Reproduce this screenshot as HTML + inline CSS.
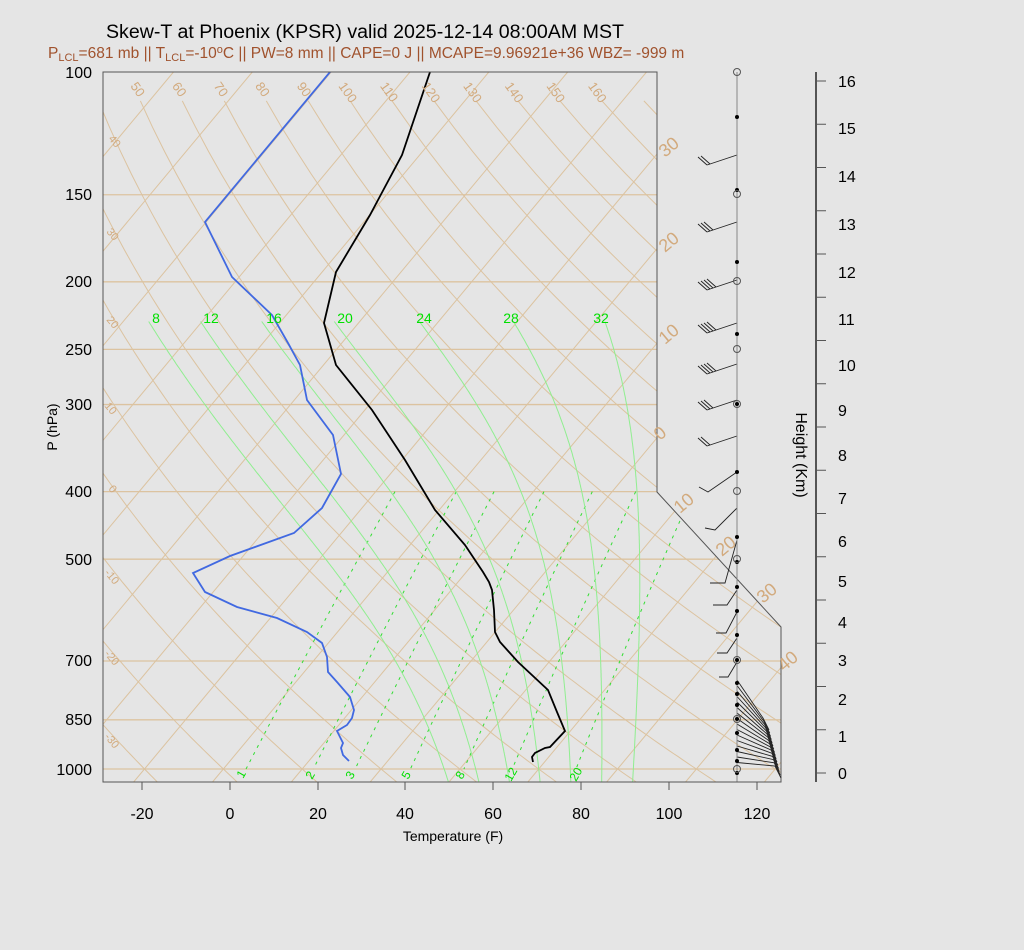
<!DOCTYPE html>
<html><head><meta charset="utf-8"><style>
body{margin:0;background:#e5e5e5;}
svg{display:block;font-family:"Liberation Sans",sans-serif;}
</style></head><body>
<svg id="s" width="1024" height="950" viewBox="0 0 1024 950" xmlns="http://www.w3.org/2000/svg">
<rect width="1024" height="950" fill="#e5e5e5"/>
<defs><clipPath id="cp"><polygon points="103,72 657,72 657,492 781,627 781,782 103,782"/></clipPath></defs>
<g id="grid" clip-path="url(#cp)"></g>
<g id="snd" clip-path="url(#cp)">
<polyline fill="none" stroke="#000" stroke-width="1.8" points="430,72 402,155 370,215 336,272 324,323 336,365 372,410 405,460 435,510 465,545 483,572 489,582 492,590 494,610 495,632 500,642 518,662 548,690 557,712 565,731 550,747 545,748 535,753 532,757 533,762"/>
<polyline fill="none" stroke="#4169e1" stroke-width="1.8" points="330,72 205,222 232,277 272,315 288,343 300,365 307,400 333,435 341,474 322,508 294,533 230,556 193,573 205,592 237,607 277,618 307,632 322,643 327,657 328,672 337,682 350,697 354,710 352,718 347,725 337,731 340,737 343,743 341,748 343,755 349,761"/>
</g>
<polygon points="103,72 657,72 657,492 781,627 781,782 103,782" fill="none" stroke="#555" stroke-width="1"/>
<g font-size="14" fill="#d2aa7d">
<text x="665" y="158" font-size="18" transform="rotate(-40 665 158)">30</text>
<text x="665" y="253" font-size="18" transform="rotate(-40 665 253)">20</text>
<text x="665" y="345" font-size="18" transform="rotate(-40 665 345)">10</text>
<text x="660" y="441" font-size="18" transform="rotate(-40 660 441)">0</text>
<text x="680" y="514" font-size="18" transform="rotate(-40 680 514)">10</text>
<text x="722" y="557" font-size="18" transform="rotate(-40 722 557)">20</text>
<text x="763" y="604" font-size="18" transform="rotate(-40 763 604)">30</text>
<text x="784" y="672" font-size="18" transform="rotate(-40 784 672)">40</text>
</g>
<g font-size="13" fill="#d2aa7d" id="toplab"></g>
<g font-size="11" fill="#d2aa7d">
<text x="108" y="139" transform="rotate(50 108 139)">40</text>
<text x="106" y="232" transform="rotate(50 106 232)">30</text>
<text x="106" y="320" transform="rotate(50 106 320)">20</text>
<text x="104" y="406" transform="rotate(50 104 406)">10</text>
<text x="108" y="489" transform="rotate(50 108 489)">0</text>
<text x="104" y="573" transform="rotate(50 104 573)">-10</text>
<text x="104" y="654" transform="rotate(50 104 654)">-20</text>
<text x="104" y="737" transform="rotate(50 104 737)">-30</text>
</g>
<g font-size="14" fill="#00e000" text-anchor="middle">
<text x="156" y="323">8</text><text x="211" y="323">12</text><text x="274" y="323">16</text><text x="345" y="323">20</text><text x="424" y="323">24</text><text x="511" y="323">28</text><text x="601" y="323">32</text>
</g>
<g font-size="12" fill="#00e000">
<text x="243" y="779" transform="rotate(-60 243 779)">1</text>
<text x="312" y="780" transform="rotate(-60 312 780)">2</text>
<text x="352" y="780" transform="rotate(-60 352 780)">3</text>
<text x="408" y="780" transform="rotate(-60 408 780)">5</text>
<text x="462" y="780" transform="rotate(-60 462 780)">8</text>
<text x="511" y="782" transform="rotate(-60 511 782)">12</text>
<text x="576" y="782" transform="rotate(-60 576 782)">20</text>
</g>
<g id="wind" stroke="#222" fill="none" stroke-width="0.9"></g>
<line x1="737" y1="72" x2="737" y2="782" stroke="#888"/>
<g id="dots"></g>
<g stroke="#555">
<line x1="142" y1="782" x2="757" y2="782"/>
<line x1="142" y1="782" x2="142" y2="790"/><line x1="230" y1="782" x2="230" y2="790"/><line x1="318" y1="782" x2="318" y2="790"/><line x1="405" y1="782" x2="405" y2="790"/><line x1="493" y1="782" x2="493" y2="790"/><line x1="581" y1="782" x2="581" y2="790"/><line x1="669" y1="782" x2="669" y2="790"/><line x1="757" y1="782" x2="757" y2="790"/>
<line x1="816" y1="72" x2="816" y2="782" stroke-width="2"/>
</g>
<g id="hticks" stroke="#555"></g>
<g font-size="16" fill="#000" text-anchor="middle">
<text x="142" y="819">-20</text><text x="230" y="819">0</text><text x="318" y="819">20</text><text x="405" y="819">40</text><text x="493" y="819">60</text><text x="581" y="819">80</text><text x="669" y="819">100</text><text x="757" y="819">120</text>
</g>
<text x="453" y="841" font-size="14" text-anchor="middle">Temperature (F)</text>
<g font-size="16" fill="#000" text-anchor="end">
<text x="92" y="78">100</text><text x="92" y="200">150</text><text x="92" y="287">200</text><text x="92" y="355">250</text><text x="92" y="410">300</text><text x="92" y="497">400</text><text x="92" y="565">500</text><text x="92" y="666">700</text><text x="92" y="725">850</text><text x="92" y="775">1000</text>
</g>
<text x="57" y="427" font-size="14" text-anchor="middle" transform="rotate(-90 57 427)">P (hPa)</text>
<g font-size="16" fill="#000">
<text x="838" y="779">0</text><text x="838" y="742">1</text><text x="838" y="705">2</text><text x="838" y="666">3</text><text x="838" y="628">4</text><text x="838" y="587">5</text><text x="838" y="547">6</text><text x="838" y="504">7</text><text x="838" y="461">8</text><text x="838" y="416">9</text><text x="838" y="371">10</text><text x="838" y="325">11</text><text x="838" y="278">12</text><text x="838" y="230">13</text><text x="838" y="182">14</text><text x="838" y="134">15</text><text x="838" y="87">16</text>
</g>
<text x="796" y="455" font-size="16" text-anchor="middle" transform="rotate(90 796 455)">Height (Km)</text>
<text x="365" y="38" font-size="19.6" text-anchor="middle">Skew-T at Phoenix (KPSR) valid 2025-12-14 08:00AM MST</text>
<text x="48" y="58" font-size="15.5" fill="#a0522d">P<tspan font-size="11" dy="3">LCL</tspan><tspan dy="-3">=681 mb || T</tspan><tspan font-size="11" dy="3">LCL</tspan><tspan dy="-3">=-10</tspan><tspan font-size="11" dy="-5">o</tspan><tspan dy="5">C || PW=8 mm || CAPE=0 J || MCAPE=9.96921e+36 WBZ= -999 m</tspan></text>
</svg>
<script>
var NS="http://www.w3.org/2000/svg";
function X(T,y){return 370.2+7.884*T+(782-y)/1.2;}
function Y(p){return 72+697*Math.log10(p/100);}
function el(par,tag,a){var e=document.createElementNS(NS,tag);for(var k in a)e.setAttribute(k,a[k]);document.getElementById(par).appendChild(e);return e;}
var tan="#dcc3a0";
[150,200,250,300,400,500,700,850,1000].forEach(function(p){var y=Y(p);el("grid","line",{x1:103,y1:y,x2:781,y2:y,stroke:"#dcc3a0","stroke-width":1.3});});
for(var T=-160;T<=60;T+=10){el("grid","line",{x1:X(T,782),y1:782,x2:X(T,72),y2:72,stroke:tan,"stroke-width":1});}
for(var th=-60;th<=200;th+=10){var pts=[];for(var p=110;p<=1060;p+=10){var Tk=(th+273.15)*Math.pow(p/1000,0.2857);var y=Y(p);pts.push(X(Tk-273.15,y).toFixed(1)+","+y.toFixed(1));}
el("grid","polyline",{points:pts.join(" "),fill:"none",stroke:tan,"stroke-width":1});}
[1,2,3,5,8,12,20].forEach(function(w){var pts=[];for(var p=400;p<=1000;p+=10){var e=w*p/(622+w);var l=Math.log(e/6.112);var Td=243.5*l/(17.67-l);var y=Y(p);pts.push(X(Td,y).toFixed(1)+","+y.toFixed(1));}
el("grid","polyline",{points:pts.join(" "),fill:"none",stroke:"#33dd33","stroke-width":1,"stroke-dasharray":"3,5"});});
function dTdp(T,p){var Tc=T-273.15;var es=6.112*Math.exp(17.67*Tc/(Tc+243.5));var rs=0.622*es/(p-es);return (287*T+2.5e6*rs)/(p*(1004+2.5e6*2.5e6*rs*0.622/(287*T*T)));}
[8,12,16,20,24,28,32].forEach(function(tw){var T2=tw+273.15,p2=1000;var arr=[];
while(p2<1050){T2+=dTdp(T2,p2)*2;p2+=2;}
for(var q=1050,TT=T2;q>=228;q-=2){var y=Y(q);arr.push(X(TT-273.15,y).toFixed(1)+","+y.toFixed(1));TT-=dTdp(TT,q)*2;}
el("grid","polyline",{points:arr.join(" "),fill:"none",stroke:"#90ee90","stroke-width":1});});
var tl=["50","60","70","80","90","100","110","120","130","140","150","160"];
tl.forEach(function(s,i){var x=130+i*41.6;var t=el("toplab","text",{x:x,y:86,transform:"rotate(55 "+x+" 86)"});t.textContent=s;});
for(var k=0;k<=16;k++){var y=773-k*43.25;el("hticks","line",{x1:816,y1:y,x2:826,y2:y});}
[[155,2],[222,3],[280,4],[323,4],[364,4],[400,3],[436,2]].forEach(function(b){var y=b[0];var d="M737 "+y+" L707 "+(y+10);for(var i=0;i<b[1];i++){var x0=707+i*3,y0=y+10-i*1;d+=" M"+x0+" "+y0+" l-9 -8";}el("wind","path",{d:d});});
el("wind","path",{d:"M737 472 L708 492 l-9 -5"});
el("wind","path",{d:"M737 508 L715 530 l-10 -2"});
var low=[[540,725,583,710],[590,727,605,713],[612,726,633,716],[638,727,653,717],[662,728,677,719]];
low.forEach(function(a){el("wind","path",{d:"M737 "+a[0]+" L"+a[1]+" "+a[2]+" L"+a[3]+" "+a[2]});});
for(var i=0;i<16;i++){var y0=680+i*5.5;var ye=718+i*3.2;var xe=763+i*0.8;el("wind","path",{d:"M737 "+y0.toFixed(1)+" L"+xe+" "+ye.toFixed(1)+" l6 12"});}
[117,190,262,334,404,472,537,562,587,611,635,660,683,694,705,719,733,750,761,773].forEach(function(y){el("dots","circle",{cx:737,cy:y,r:2,fill:"#000"});});
[72,194,281,349,404,491,559,660,719,769].forEach(function(y){el("dots","circle",{cx:737,cy:y,r:3.5,fill:"none",stroke:"#555"});});
</script>
</body></html>
